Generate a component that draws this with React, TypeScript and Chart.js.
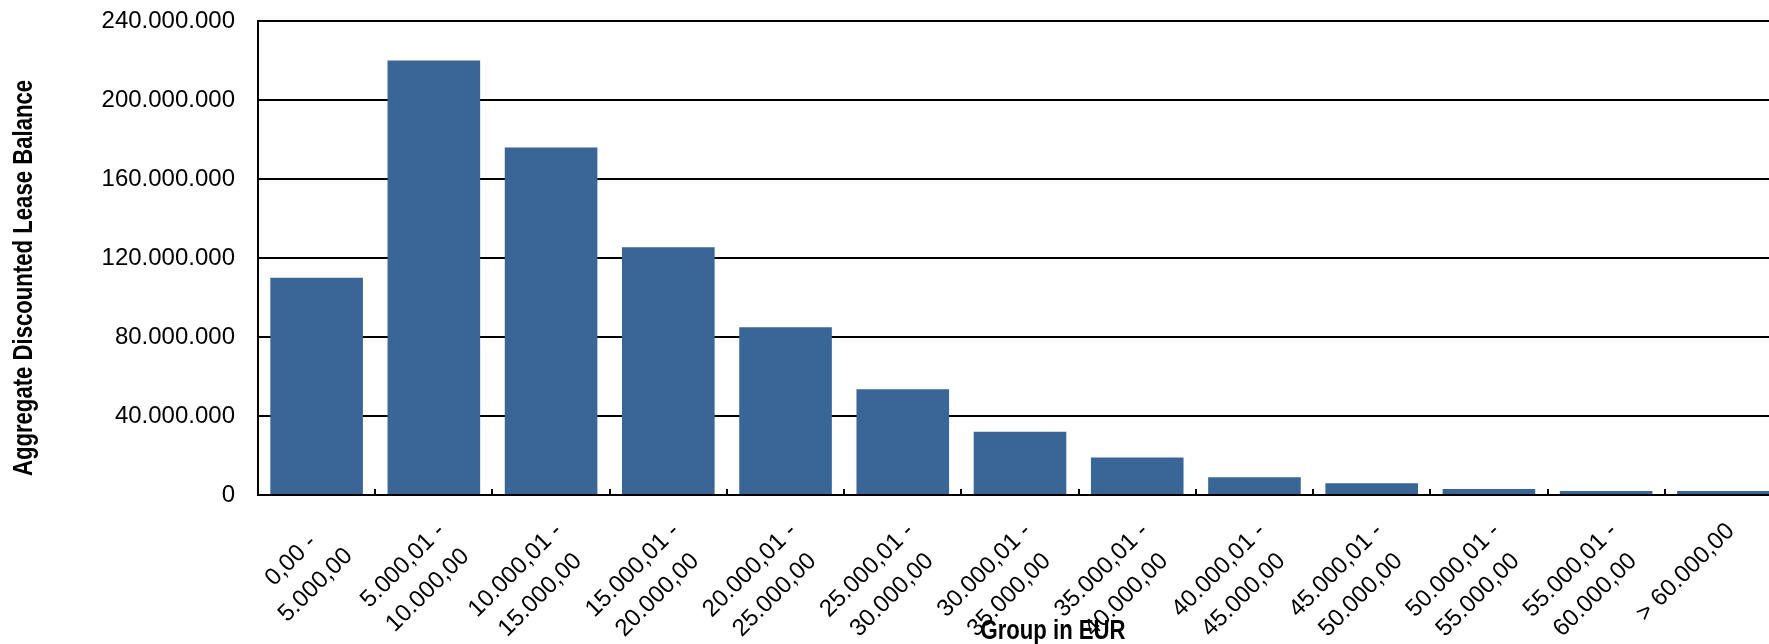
import React, { useEffect, useRef } from "react";
import { Chart, registerables } from "chart.js";

Chart.register(...registerables);

const categories: string[][] = [
  ["0,00 -", "5.000,00"],
  ["5.000,01 -", "10.000,00"],
  ["10.000,01 -", "15.000,00"],
  ["15.000,01 -", "20.000,00"],
  ["20.000,01 -", "25.000,00"],
  ["25.000,01 -", "30.000,00"],
  ["30.000,01 -", "35.000,00"],
  ["35.000,01 -", "40.000,00"],
  ["40.000,01 -", "45.000,00"],
  ["45.000,01 -", "50.000,00"],
  ["50.000,01 -", "55.000,00"],
  ["55.000,01 -", "60.000,00"],
  ["> 60.000,00"],
];

const balances: number[] = [
  110000000, 220000000, 176000000, 125500000, 85000000, 53500000, 32000000,
  19000000, 9000000, 6000000, 3000000, 2000000, 2000000,
];

const yTickValues: number[] = [0, 40000000, 80000000, 120000000, 160000000, 200000000, 240000000];

const yTitle = "Aggregate Discounted Lease Balance";
const xTitle = "Group in EUR";

const FONT = "'Liberation Sans', Arial, sans-serif";

const fmt = (v: number) =>
  Math.round(v).toString().replace(/\B(?=(\d{3})+(?!\d))/g, ".");

const textPlugin = {
  id: "customText",
  afterDraw(chart: any) {
    const ctx = chart.ctx as CanvasRenderingContext2D;
    const xs = chart.scales.x;
    const labels = chart.data.labels as string[][];
    ctx.save();
    ctx.fillStyle = "#000";
    ctx.font = `24px ${FONT}`;
    ctx.textAlign = "center";
    ctx.textBaseline = "middle";
    const lh = 35;
    labels.forEach((lines, i) => {
      const cx = xs.getPixelForValue(i) - 5;
      const w = Math.max(...lines.map((l) => ctx.measureText(l).width));
      ctx.save();
      ctx.translate(cx, chart.chartArea.bottom + 20);
      ctx.rotate(-Math.PI / 4);
      lines.forEach((l, j) => ctx.fillText(l, -w / 2, (j + 0.5) * lh));
      ctx.restore();
    });

    ctx.font = `bold 27px ${FONT}`;
    ctx.textBaseline = "alphabetic";
    ctx.textAlign = "center";
    ctx.save();
    ctx.translate(1053, 639);
    ctx.scale(0.82, 1);
    ctx.fillText(xTitle, 0, 0);
    ctx.restore();

    ctx.save();
    ctx.translate(32, (chart.chartArea.top + chart.chartArea.bottom) / 2 + 20);
    ctx.rotate(-Math.PI / 2);
    ctx.scale(0.82, 1);
    ctx.fillText(yTitle, 0, 0);
    ctx.restore();

    ctx.restore();
  },
};

export default function App() {
  const ref = useRef<HTMLCanvasElement | null>(null);

  useEffect(() => {
    if (!ref.current) return;
    const chart = new Chart(ref.current, {
      type: "bar",
      data: {
        labels: categories as any,
        datasets: [
          {
            data: balances,
            backgroundColor: "#3A6597",
            borderWidth: 0,
            barPercentage: 0.79,
            categoryPercentage: 1.0,
          },
        ],
      },
      options: {
        animation: false,
        responsive: false,
        devicePixelRatio: 1,
        layout: { padding: { left: 0, right: 18, top: 21, bottom: 0 } },
        plugins: {
          legend: { display: false },
          tooltip: { enabled: false },
        },
        scales: {
          x: {
            offset: true,
            ticks: { display: false },
            grid: {
              offset: true,
              drawOnChartArea: false,
              drawTicks: true,
              tickLength: -6,
              color: "#000",
              lineWidth: 2,
            },
            border: { display: true, color: "#000", width: 2 },
            afterFit: (s: any) => {
              s.height = 149;
              s.paddingLeft = 0;
              s.paddingRight = 0;
            },
          },
          y: {
            min: 0,
            max: 240000000,
            afterBuildTicks: (s: any) => {
              s.ticks = yTickValues.map((v) => ({ value: v }));
            },
            ticks: {
              padding: 23,
              color: "#000",
              font: { family: FONT, size: 24 },
              callback: (v: any) => fmt(Number(v)),
            },
            grid: {
              drawTicks: false,
              color: "#000",
              lineWidth: 2,
            },
            border: { display: true, color: "#000", width: 2 },
            afterFit: (s: any) => {
              s.width = 258;
              s.paddingTop = 0;
              s.paddingBottom = 0;
            },
          },
        },
      },
      plugins: [textPlugin],
    });
    return () => chart.destroy();
  }, []);

  return (
    <div
      style={{
        position: "fixed",
        left: 0,
        top: 0,
        width: 1769,
        height: 644,
        overflow: "hidden",
        background: "#fff",
      }}
    >
      <canvas
        ref={ref}
        width={1800}
        height={644}
        style={{ display: "block", width: 1800, height: 644 }}
      />
    </div>
  );
}
